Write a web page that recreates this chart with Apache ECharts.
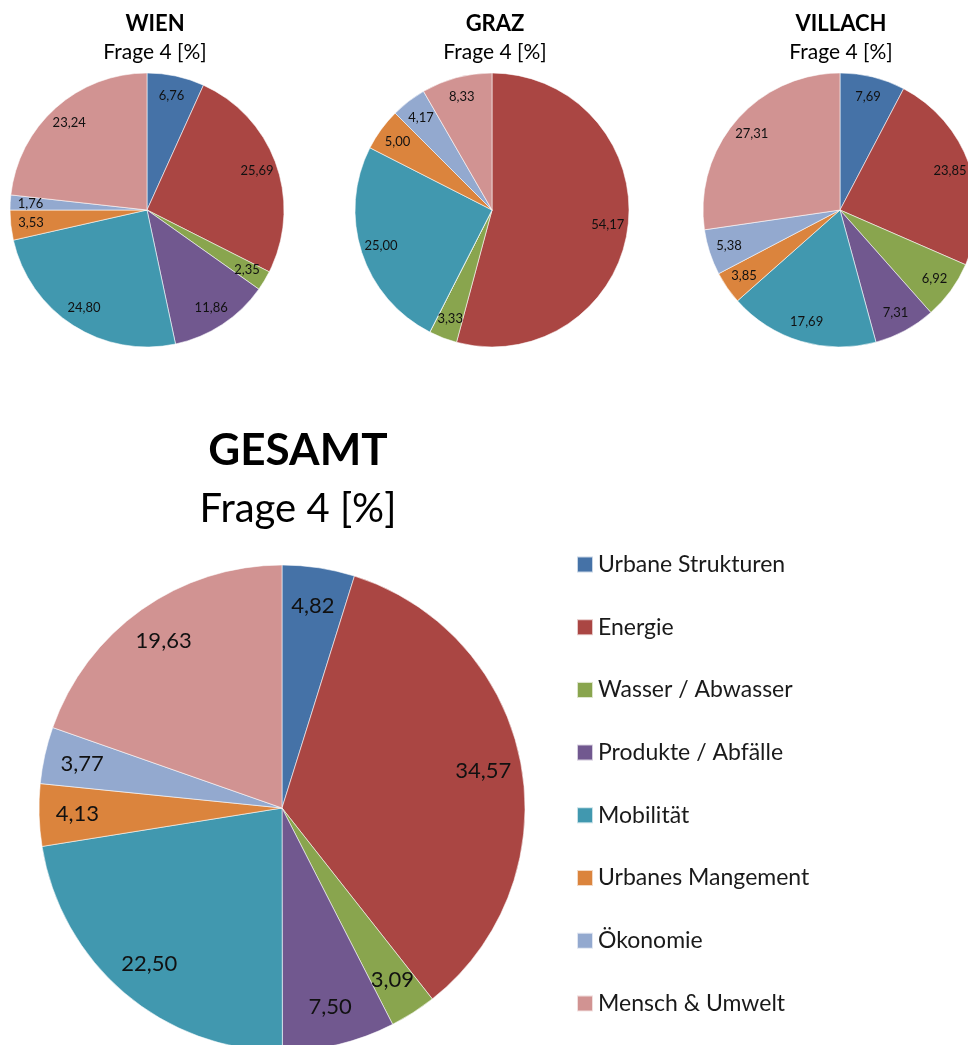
<!DOCTYPE html>
<html>
<head>
<meta charset="utf-8">
<script src="https://cdn.jsdelivr.net/npm/echarts@6/dist/echarts.min.js"></script>
<style>
  html, body { margin: 0; padding: 0; background: #fff; }
  #chart { width: 968px; height: 1045px; }
</style>
</head>
<body>
<div id="chart"></div>
<script>
const categories = ['Urbane Strukturen', 'Energie', 'Wasser / Abwasser', 'Produkte / Abfälle',
  'Mobilität', 'Urbanes Mangement', 'Ökonomie', 'Mensch & Umwelt'];
const colors = ['#4572A7', '#AA4643', '#89A54E', '#71588F', '#4198AF', '#DB843D', '#93A9CF', '#D19392'];

const wien    = [6.76, 25.69, 2.35, 11.86, 24.80, 3.53, 1.76, 23.24];
const graz    = [0, 54.17, 3.33, 0, 25.00, 5.00, 4.17, 8.33];
const villach = [7.69, 23.85, 6.92, 7.31, 17.69, 3.85, 5.38, 27.31];
const gesamt  = [4.82, 34.57, 3.09, 7.50, 22.50, 4.13, 3.77, 19.63];

const subtitle = 'Frage 4 [%]';
const font = 'Lato';

function fmt(p) {
  return p.value ? p.value.toFixed(2).replace('.', ',') : '';
}

// one pie for the slices, one transparent ring on top that carries the labels near the rim
function pie(name, values, center, r, fontSize) {
  const data = categories.map((c, i) => ({ name: c, value: values[i] }));
  return [
    {
      type: 'pie', name: name, center: center, radius: [0, r],
      data: data,
      label: { show: false }, labelLine: { show: false },
      itemStyle: { borderColor: 'rgba(255,255,255,0.7)', borderWidth: 0.8 },
      emphasis: { disabled: true }
    },
    {
      type: 'pie', name: name + ' labels', center: center, radius: [r * 0.66, r],
      data: data, silent: true,
      itemStyle: { color: 'transparent' },
      label: { show: true, position: 'inside', formatter: fmt, fontSize: fontSize, fontFamily: font, color: '#111' },
      labelLine: { show: false },
      emphasis: { disabled: true }
    }
  ];
}

function title(text, x, top, size, subSize, gap) {
  return {
    text: text, subtext: subtitle, left: x, top: top, textAlign: 'center', padding: 0, itemGap: gap,
    textStyle: { fontFamily: font, fontSize: size, fontWeight: 'bold', color: '#000' },
    subtextStyle: { fontFamily: font, fontSize: subSize, color: '#000' }
  };
}

const chart = echarts.init(document.getElementById('chart'));
chart.setOption({
  backgroundColor: '#fff',
  color: colors,
  animation: false,
  title: [
    title('WIEN', 155, 13, 22, 21, 7),
    title('GRAZ', 495, 13, 22, 21, 7),
    title('VILLACH', 841, 13, 22, 21, 7),
    title('GESAMT', 298, 429, 44, 40, 16)
  ],
  legend: {
    orient: 'vertical', left: 576, top: 553, padding: 0,
    icon: 'rect', itemWidth: 16, itemHeight: 16, itemGap: 39.7,
    data: categories,
    textStyle: { fontFamily: font, fontSize: 23, lineHeight: 23, color: '#1a1a1a' }
  },
  series: [].concat(
    pie('Wien', wien, [147, 210], 137, 13),
    pie('Graz', graz, [492, 210], 137, 13),
    pie('Villach', villach, [840, 210], 137, 13),
    pie('Gesamt', gesamt, [282, 808], 243, 22)
  )
});
</script>
</body>
</html>
